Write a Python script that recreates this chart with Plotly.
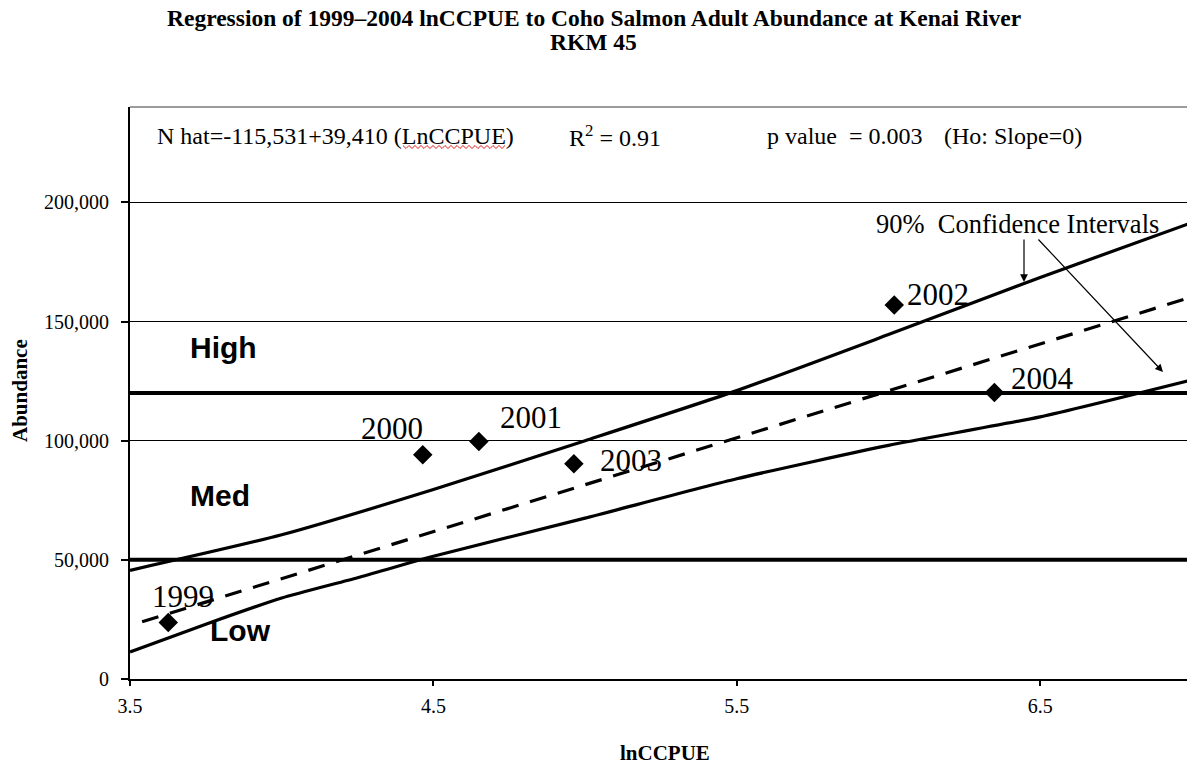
import plotly.graph_objects as go

# ---------------- data ----------------
years = ["1999", "2000", "2001", "2002", "2003", "2004"]
ln_ccpue = [3.626, 4.465, 4.650, 6.019, 4.963, 6.349]
abundance = [23700, 94100, 99600, 156900, 90300, 120200]

# regression line (N hat = -115,531 + 39,410 * lnCCPUE), end points as read
reg_x = [3.54, 7.0]
reg_y = [24000, 160300]

# 90% confidence interval curves
upper_x = [3.5, 4.0, 4.5, 5.0, 5.5, 6.0, 6.5, 7.0]
upper_y = [45600, 60500, 79500, 100000, 121000, 144500, 168500, 191500]
lower_x = [3.5, 3.75, 4.0, 4.25, 4.5, 5.0, 5.5, 6.0, 6.5, 7.0]
lower_y = [11300, 23000, 34000, 42500, 51500, 67500, 84000, 98000, 110000, 125500]

# abundance class thresholds
thresholds = [50000, 120000]
class_names = ["High", "Med", "Low"]

x_ticks = [3.5, 4.5, 5.5, 6.5]
x_tick_labels = ["3.5", "4.5", "5.5", "6.5"]
y_ticks = [0, 50000, 100000, 150000, 200000]
y_tick_labels = ["0", "50,000", "100,000", "150,000", "200,000"]

# ---------------- styling / layout ----------------
SERIF = "Times New Roman, Liberation Serif, serif"
SANS = "Arial, Liberation Sans, sans-serif"
W, H = 1187, 765
ML, MR, MT, MB = 130, 0, 107, 86
PW, PH = W - ML - MR, H - MT - MB
XR = [3.5, 6.984]
YR = [0, 240000]


def px_to_paper_x(px):
    return (px - ML) / PW


def px_to_paper_y(py):
    return (H - MB - py) / PH


fig = go.Figure()

fig.add_trace(go.Scatter(x=upper_x, y=upper_y, mode="lines",
                         line=dict(color="black", width=3.2, shape="spline",
                                   smoothing=0.6),
                         showlegend=False, hoverinfo="skip"))
fig.add_trace(go.Scatter(x=lower_x, y=lower_y, mode="lines",
                         line=dict(color="black", width=3.2, shape="spline",
                                   smoothing=0.6),
                         showlegend=False, hoverinfo="skip"))
fig.add_trace(go.Scatter(x=reg_x, y=reg_y, mode="lines",
                         line=dict(color="black", width=3.2, dash="17px,12px"),
                         showlegend=False, hoverinfo="skip"))
fig.add_trace(go.Scatter(x=ln_ccpue, y=abundance, mode="markers",
                         marker=dict(symbol="diamond", size=15, color="black"),
                         showlegend=False))

shapes = []
for t in thresholds:
    shapes.append(dict(type="line", xref="paper", yref="y", x0=0, x1=1, y0=t, y1=t,
                       line=dict(color="black", width=4)))
# top border of plot area
shapes.append(dict(type="line", xref="paper", yref="paper", x0=0, x1=1, y0=1, y1=1,
                   line=dict(color="#7a7a7a", width=1.5)))
# red spell-check squiggle under "LnCCPUE"
pts = []
px = 403
k = 0
while px <= 507:
    pts.append((px_to_paper_x(px), px_to_paper_y(145.5 if k % 2 == 0 else 148.5)))
    px += 3
    k += 1
path = "M " + " L ".join(f"{a:.5f},{b:.5f}" for a, b in pts)
shapes.append(dict(type="path", xref="paper", yref="paper", path=path,
                   line=dict(color="#e02020", width=1)))

ann = []
# title lines
ann.append(dict(text="<b>Regression of 1999\u20132004 lnCCPUE to Coho Salmon Adult Abundance at Kenai River</b>",
                xref="paper", yref="paper", x=px_to_paper_x(593.5), y=px_to_paper_y(18),
                xanchor="center", yanchor="middle", showarrow=False,
                font=dict(family=SERIF, size=23.5, color="black")))
ann.append(dict(text="<b>RKM 45</b>",
                xref="paper", yref="paper", x=px_to_paper_x(593.5), y=px_to_paper_y(42),
                xanchor="center", yanchor="middle", showarrow=False,
                font=dict(family=SERIF, size=23.5, color="black")))
# axis titles
ann.append(dict(text="<b>lnCCPUE</b>", xref="paper", yref="paper",
                x=px_to_paper_x(665), y=px_to_paper_y(753), xanchor="center",
                yanchor="middle", showarrow=False,
                font=dict(family=SERIF, size=21, color="black")))
ann.append(dict(text="<b>Abundance</b>", xref="paper", yref="paper",
                x=px_to_paper_x(20), y=px_to_paper_y(391), xanchor="center",
                yanchor="middle", showarrow=False, textangle=-90,
                font=dict(family=SERIF, size=21, color="black")))
# equation text
eq_font = dict(family=SERIF, size=24, color="black")
for txt, px in [("N hat=-115,531+39,410 (LnCCPUE)", 155),
                ("R<sup>2</sup> = 0.91", 567),
                ("p value&nbsp; = 0.003", 765),
                ("(Ho: Slope=0)", 942)]:
    ann.append(dict(text=txt, xref="paper", yref="paper", x=px_to_paper_x(px),
                    y=px_to_paper_y(136), xanchor="left", yanchor="middle",
                    showarrow=False, font=eq_font))
# class labels
cls_font = dict(family=SANS, size=30, color="black")
for name, px, py in zip(class_names, [188, 188, 208], [347, 495, 630]):
    ann.append(dict(text=f"<b>{name}</b>", xref="paper", yref="paper",
                    x=px_to_paper_x(px), y=px_to_paper_y(py), xanchor="left",
                    yanchor="middle", showarrow=False, font=cls_font))
# year labels (pixel offsets from each point)
offsets = {"1999": (15, 26), "2000": (-31, 26), "2001": (52, 24),
           "2002": (44, 11), "2003": (57, 3), "2004": (48, 14)}
for yr, xv, yv in zip(years, ln_ccpue, abundance):
    dx, dy = offsets[yr]
    ann.append(dict(text=yr, x=xv, y=yv, xref="x", yref="y", showarrow=False,
                    xshift=dx, yshift=dy, xanchor="center", yanchor="middle",
                    font=dict(family=SERIF, size=31, color="black")))
# confidence interval callout
ann.append(dict(text="90%&nbsp; Confidence Intervals", xref="paper", yref="paper",
                x=px_to_paper_x(1017), y=px_to_paper_y(224), xanchor="center",
                yanchor="middle", showarrow=False,
                font=dict(family=SERIF, size=26.5, color="black")))
for tail, head in [((1024, 238), (1024, 282)), ((1037, 238), (1163, 372))]:
    ann.append(dict(text="", xref="paper", yref="paper",
                    x=px_to_paper_x(head[0]), y=px_to_paper_y(head[1]),
                    axref="pixel", ayref="pixel",
                    ax=tail[0] - head[0], ay=tail[1] - head[1],
                    showarrow=True, arrowhead=2, arrowsize=1.3, arrowwidth=1.2,
                    arrowcolor="black", standoff=0, startstandoff=0))

fig.update_layout(
    width=W, height=H,
    margin=dict(l=ML, r=MR, t=MT, b=MB, pad=0),
    paper_bgcolor="white", plot_bgcolor="white",
    shapes=shapes, annotations=ann, showlegend=False,
    xaxis=dict(range=XR, tickvals=x_ticks, ticktext=x_tick_labels,
               showgrid=False, zeroline=False, showline=True, linecolor="black",
               linewidth=2, ticks="outside", ticklen=5, tickwidth=2,
               tickcolor="black", ticklabelstandoff=3,
               tickfont=dict(family=SERIF, size=20, color="black")),
    yaxis=dict(range=YR, tickvals=y_ticks, ticktext=y_tick_labels,
               showgrid=True, gridcolor="black", gridwidth=1, zeroline=False,
               showline=True, linecolor="black", linewidth=2, ticks="outside",
               ticklen=7, tickwidth=1.5, tickcolor="black", ticklabelstandoff=8,
               tickfont=dict(family=SERIF, size=20, color="black")),
)

fig.write_html("out.html")
